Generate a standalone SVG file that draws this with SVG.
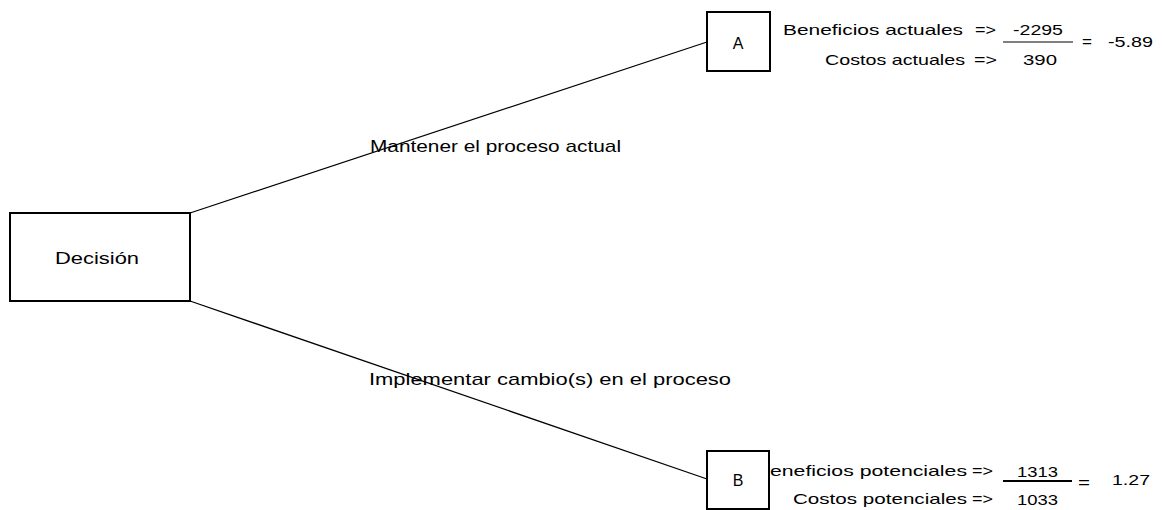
<svg xmlns="http://www.w3.org/2000/svg" width="1162" height="510" viewBox="0 0 1162 510">
<style>
text{font-family:"Liberation Sans",Arial,sans-serif;fill:#000}
.box{fill:#fff;stroke:#000;stroke-width:2}
.edge{stroke:#000;stroke-width:1.3;fill:none}
.lbl{font-size:17px}
.nd{font-size:16px}
.calc{font-size:15px}
</style>
<rect width="1162" height="510" fill="#fff"/>
<g id="connectors">
<line class="edge" x1="190" y1="213" x2="707" y2="42"/>
<line class="edge" x1="190" y1="301" x2="707" y2="479"/>
<text class="lbl" x="370" y="152" textLength="251" lengthAdjust="spacingAndGlyphs">Mantener el proceso actual</text>
<text class="lbl" x="369" y="385" textLength="362" lengthAdjust="spacingAndGlyphs">Implementar cambio(s) en el proceso</text>
</g>
<g id="decision">
<rect class="box" x="10" y="213" width="180" height="88"/>
<text class="nd" x="55" y="264" textLength="84" lengthAdjust="spacingAndGlyphs">Decisión</text>
</g>
<g id="nodeA">
<text class="calc" x="783" y="35" textLength="180" lengthAdjust="spacingAndGlyphs">Beneficios actuales</text>
<text class="calc" x="975" y="35" textLength="21" lengthAdjust="spacingAndGlyphs">=&gt;</text>
<text class="calc" x="1013" y="35" textLength="50" lengthAdjust="spacingAndGlyphs">-2295</text>
<line x1="1003" y1="42" x2="1073" y2="42" stroke="#000" stroke-width="1"/>
<text class="calc" x="825" y="65" textLength="140" lengthAdjust="spacingAndGlyphs">Costos actuales</text>
<text class="calc" x="974" y="65" textLength="23" lengthAdjust="spacingAndGlyphs">=&gt;</text>
<text class="calc" x="1023" y="65" textLength="34" lengthAdjust="spacingAndGlyphs">390</text>
<text class="calc" x="1082" y="47" textLength="10" lengthAdjust="spacingAndGlyphs">=</text>
<text class="calc" x="1108" y="47" textLength="45" lengthAdjust="spacingAndGlyphs">-5.89</text>
<rect class="box" x="707" y="12" width="63" height="59"/>
<text class="nd" x="738" y="49" text-anchor="middle">A</text>
</g>
<g id="nodeB">
<text class="calc" x="770" y="476" textLength="197" lengthAdjust="spacingAndGlyphs">eneficios potenciales</text>
<text class="calc" x="972" y="476" textLength="21" lengthAdjust="spacingAndGlyphs">=&gt;</text>
<text class="calc" x="1017" y="477" textLength="41" lengthAdjust="spacingAndGlyphs">1313</text>
<line x1="1003" y1="481" x2="1072" y2="481" stroke="#000" stroke-width="2"/>
<text class="calc" x="793" y="504" textLength="174" lengthAdjust="spacingAndGlyphs">Costos potenciales</text>
<text class="calc" x="972" y="504" textLength="21" lengthAdjust="spacingAndGlyphs">=&gt;</text>
<text class="calc" x="1017" y="505" textLength="41" lengthAdjust="spacingAndGlyphs">1033</text>
<text class="calc" x="1078" y="488" textLength="12" lengthAdjust="spacingAndGlyphs">=</text>
<text class="calc" x="1112" y="485" textLength="38" lengthAdjust="spacingAndGlyphs">1.27</text>
<rect class="box" x="707" y="451" width="62" height="58"/>
<text class="nd" x="738" y="486" text-anchor="middle">B</text>
</g>
</svg>
